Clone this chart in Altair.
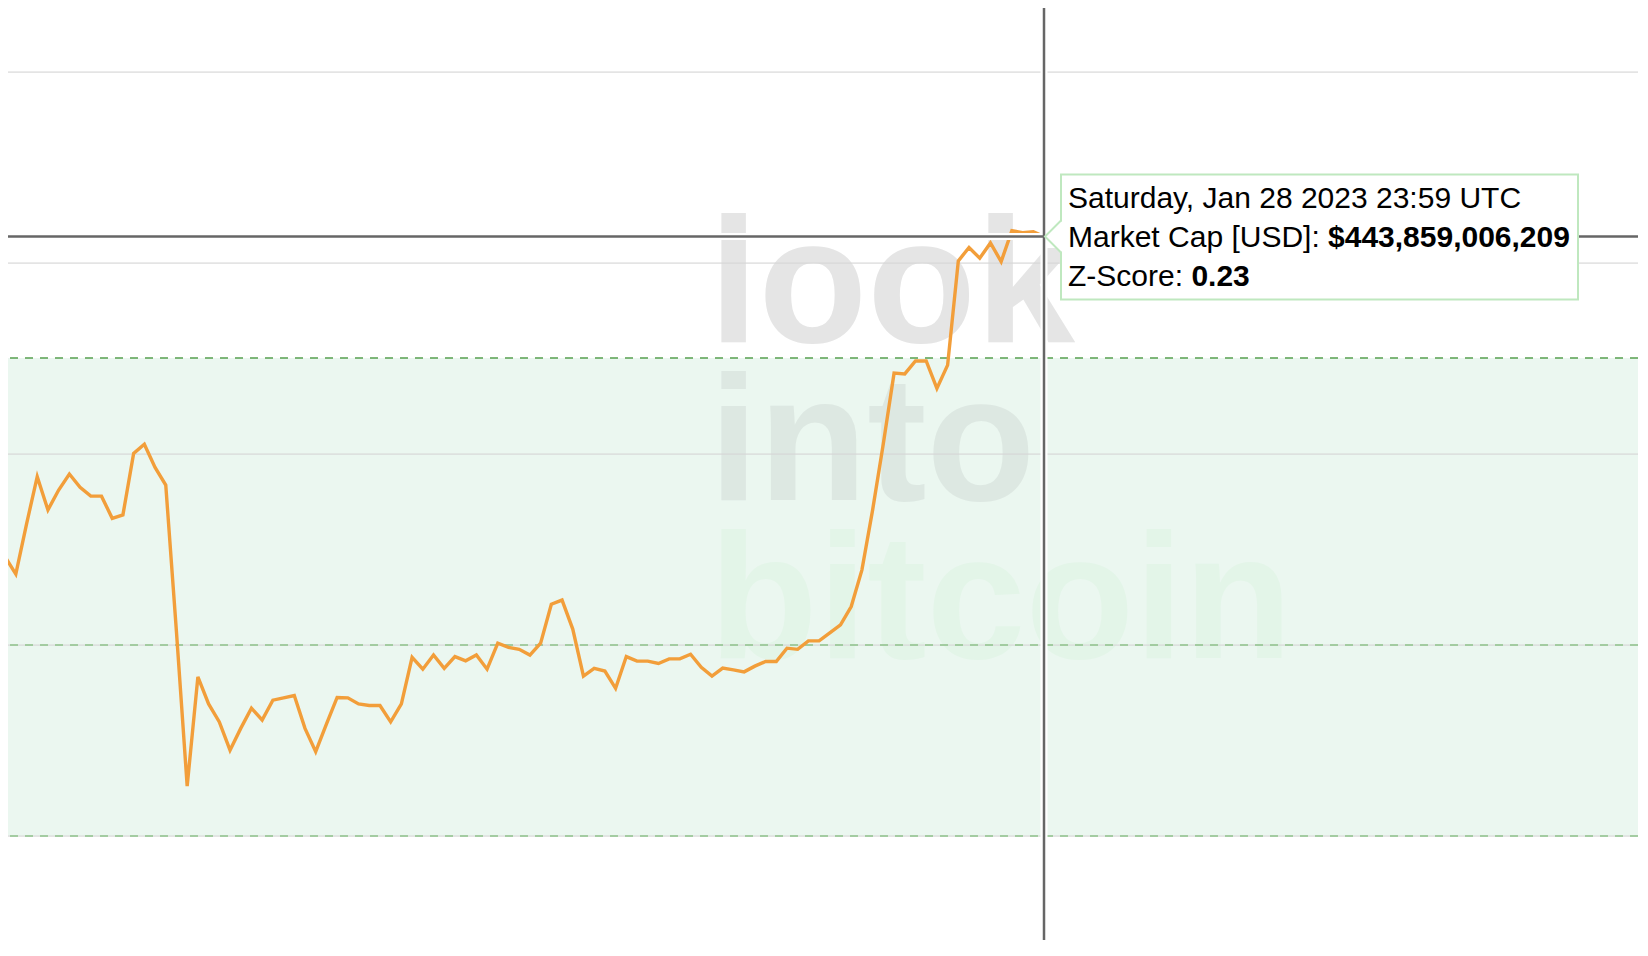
import altair as alt
import pandas as pd

# ---------------- data ----------------
start_date = "2022-10-22"
# daily market cap, billions USD
mcap_b = [
    351.3, 360.0, 355.5, 368.6, 381.0, 372.3, 377.5, 381.7, 378.2, 375.9,   # Oct 22 - Oct 31
    375.9, 370.1, 371.0, 387.1, 389.5, 383.4, 378.8, 340.3, 300.0, 328.6,   # Nov 1 - Nov 10
    321.5, 316.8, 309.4, 315.1, 320.4, 317.3, 322.5, 323.1, 323.7, 315.1,   # Nov 11 - Nov 20
    309.0, 316.2, 323.2, 323.1, 321.5, 321.1, 321.1, 316.8, 321.5, 333.7,   # Nov 21 - Nov 30
    330.6, 334.3, 330.8, 333.9, 332.8, 334.3, 330.6, 337.4, 336.3, 335.8,   # Dec 1 - Dec 10
    334.3, 337.4, 347.6, 348.7, 341.1, 328.8, 330.8, 330.1, 325.6, 333.9,   # Dec 11 - Dec 20
    332.7, 332.7, 332.1, 333.3, 333.3, 334.5, 331.1, 328.8, 330.9, 330.4,   # Dec 21 - Dec 30
    329.9, 331.4, 332.6, 332.6, 336.1, 335.8, 338.0, 338.0, 340.1, 342.2,   # Dec 31 - Jan 9
    347.0, 356.6, 372.3, 389.7, 408.1, 407.9, 411.3, 411.3, 404.1, 410.2,   # Jan 10 - Jan 19
    437.5, 441.0, 438.2, 442.2, 437.3, 445.4, 444.9, 445.1, 443.86,         # Jan 20 - Jan 28
]
grid_b = [486.9, 436.9, 386.9, 336.9, 286.9]
band_top_b = 412.1
band_bottom_b = 286.9
band_dash_b = [336.9, 286.9]

hover_date = "2023-01-28"
hover_mcap_b = 443.86
tip_title = "Saturday, Jan 28 2023 23:59 UTC"
tip_mcap_label = "Market Cap [USD]: "
tip_mcap_value = "$443,859,006,209"
tip_z_label = "Z-Score: "
tip_z_value = "0.23"

watermark_words = ["look", "into", "bitcoin"]
watermark_colors = ["#e5e5e5", "#dde8e2", "#e3f5e8"]

# ---------------- tables ----------------
dates = pd.date_range(start_date, periods=len(mcap_b), freq="D").strftime("%Y-%m-%d")
line_df = pd.DataFrame({"date": dates, "mcap": mcap_b})
hover_df = pd.DataFrame({"date": [hover_date], "mcap": [hover_mcap_b]})
grid_df = pd.DataFrame({"y": grid_b})
band_df = pd.DataFrame({"y": [band_top_b], "y2": [band_bottom_b]})
top_dash_df = pd.DataFrame({"y": [band_top_b]})
low_dash_df = pd.DataFrame({"y": band_dash_b})

W, H = 1630, 932
DAY = 86400000
hover_ms = int(pd.Timestamp(hover_date, tz="UTC").value // 10**6)
xs = alt.Scale(domain=[hover_ms - 96.73 * DAY, hover_ms + 55.46 * DAY], nice=False)
ys = alt.Scale(domain=[259.7, 503.7], nice=False, zero=False)

X = alt.X("date:T", scale=xs, axis=None)
Y = alt.Y("mcap:Q", scale=ys, axis=None)

ORANGE = "#f29e3a"
TIPBORDER = "#bfe8bf"
CROSS = "#666666"
FONT = "Liberation Sans"

band = alt.Chart(band_df).mark_rect(color="#ebf7f0").encode(
    x=alt.value(0), x2=alt.value(W),
    y=alt.Y("y:Q", scale=ys, axis=None), y2="y2:Q")

wm_layers = []
for i, (w, c) in enumerate(zip(watermark_words, watermark_colors)):
    wm_layers.append(
        alt.Chart(pd.DataFrame({"t": [w]})).mark_text(
            font=FONT, fontWeight="bold", fontSize=178, align="left",
            baseline="alphabetic", color=c).encode(
            x=alt.value(701), y=alt.value(334 + 158 * i), text="t:N"))

grid = alt.Chart(grid_df).mark_rule(color="#d6d6d6", strokeWidth=1.6, opacity=0.65).encode(
    y=alt.Y("y:Q", scale=ys, axis=None))
top_dash = alt.Chart(top_dash_df).mark_rule(color="#57a04f", strokeWidth=1.5, strokeDash=[8, 7]).encode(
    y=alt.Y("y:Q", scale=ys, axis=None))
low_dash = alt.Chart(low_dash_df).mark_rule(color="#8fc48c", strokeWidth=1.5, strokeDash=[8, 7]).encode(
    y=alt.Y("y:Q", scale=ys, axis=None))

line = alt.Chart(line_df).mark_line(color=ORANGE, strokeWidth=3.4, clip=True).encode(x=X, y=Y)

vhalo = alt.Chart(hover_df).mark_rule(color="white", strokeWidth=7).encode(x=X)
hhalo = alt.Chart(hover_df).mark_rule(color="white", strokeWidth=7).encode(y=Y)
vline = alt.Chart(hover_df).mark_rule(color=CROSS, strokeWidth=2.5).encode(x=X)
hline = alt.Chart(hover_df).mark_rule(color=CROSS, strokeWidth=2.5).encode(y=Y)

box = alt.Chart(hover_df).mark_rect(
    fill="white", stroke=TIPBORDER, strokeWidth=2,
    xOffset=17, x2Offset=534, yOffset=-62, y2Offset=63).encode(
    x=X, x2="date:T", y=Y, y2="mcap:Q")
gap = alt.Chart(hover_df).mark_rule(
    color="white", strokeWidth=3, xOffset=17, x2Offset=17, yOffset=-15, y2Offset=15).encode(
    x=X, x2="date:T", y=Y, y2="mcap:Q")
arrow = alt.Chart(hover_df).mark_point(
    shape="M 0.5 -1 L -0.5 0 L 0.5 1", size=1024, fill="white", stroke=TIPBORDER,
    strokeWidth=2, opacity=1, fillOpacity=1, strokeOpacity=1, xOffset=9).encode(x=X, y=Y)


def tip_text(txt, dx, dy, bold=False):
    return alt.Chart(hover_df).mark_text(
        align="left", baseline="alphabetic", font=FONT, fontSize=30,
        fontWeight="bold" if bold else "normal", color="black", dx=dx, dy=dy).encode(
        x=X, y=Y, text=alt.value(txt))


texts = [
    tip_text(tip_title, 24, -28.8),
    tip_text(tip_mcap_label, 24, 10.2),
    tip_text(tip_mcap_value, 284, 10.2, bold=True),
    tip_text(tip_z_label, 24, 49.2),
    tip_text(tip_z_value, 147.4, 49.2, bold=True),
]

chart = alt.layer(
    band, *wm_layers, grid, top_dash, low_dash, line,
    vhalo, hhalo, vline, hline, box, gap, arrow, *texts
).properties(
    width=W, height=H, padding=0, background="white",
    autosize=alt.AutoSizeParams(type="none"),
).configure_view(stroke=None)

chart.save("out.html", embed_options={"renderer": "svg", "actions": False})
